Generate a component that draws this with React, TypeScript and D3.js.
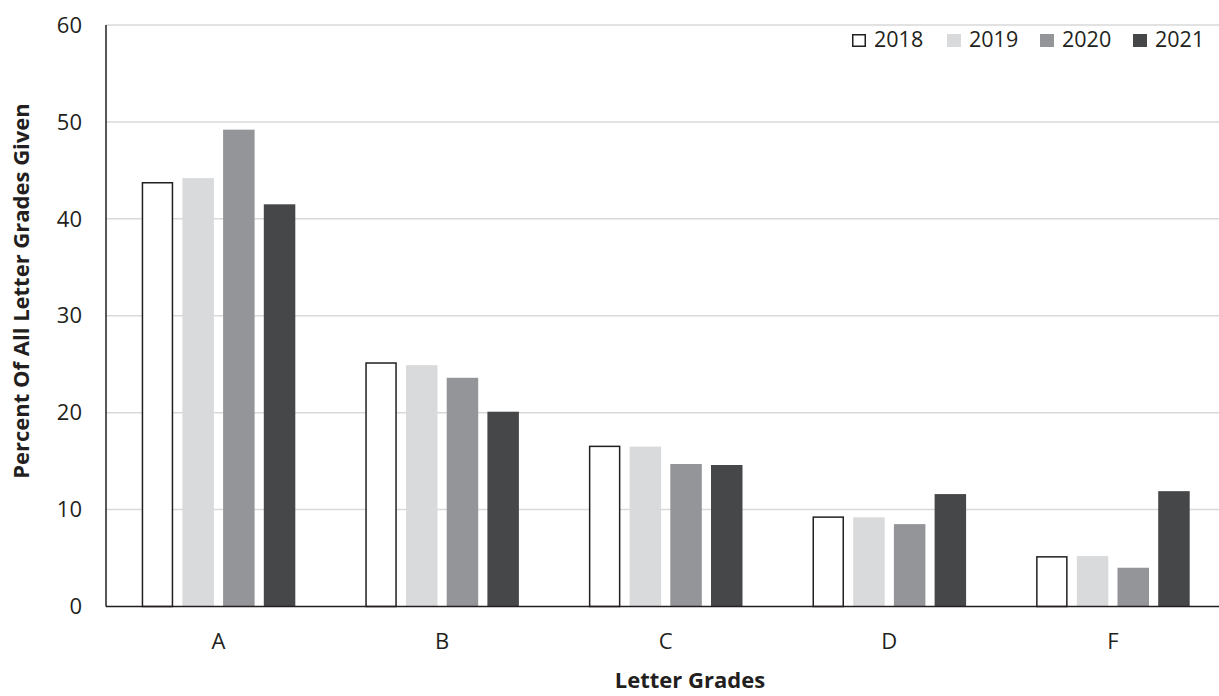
import React from "react";
import * as d3 from "d3";

const categories = ["A", "B", "C", "D", "F"];
const years = ["2018", "2019", "2020", "2021"];
const values2018 = [43.8, 25.2, 16.6, 9.3, 5.2];
const values2019 = [44.2, 24.9, 16.5, 9.2, 5.2];
const values2020 = [49.2, 23.6, 14.7, 8.5, 4.0];
const values2021 = [41.5, 20.1, 14.6, 11.6, 11.9];
const yTicks = [0, 10, 20, 30, 40, 50, 60];

const series = [values2018, values2019, values2020, values2021];
const fills = ["#ffffff", "#d9dadb", "#939598", "#464749"];
const strokes = ["#231f20", "none", "none", "none"];

export default function App() {
  const W = 1219, H = 696;
  const left = 106, right = 1224.7, top = 25, bottom = 606.5;
  const font = "'Open Sans', 'Noto Sans', sans-serif";
  const x = d3.scaleBand<string>().domain(categories).range([left + 0.7, right]).paddingInner(0).paddingOuter(0);
  const y = d3.scaleLinear().domain([0, 60]).range([bottom, top]);
  const barW = 31.5;
  const step = 40.7;
  const legendX = [852, 947, 1040, 1133];
  return (
    <svg width={W} height={H} style={{ position: "absolute", left: 0, top: 0, background: "#fff" }} fontFamily={font}>
      {yTicks.map((t) => (
        <g key={t}>
          {t > 0 && <line x1={left} x2={W} y1={y(t)} y2={y(t)} stroke="#d9d9d9" strokeWidth={1.5} />}
          <text x={82} y={y(t)} dy="0.35em" textAnchor="end" fontSize={22} fill="#231f20">{t}</text>
        </g>
      ))}
      {categories.map((c, i) => {
        const cx = x(c)! + x.bandwidth() / 2;
        return (
          <g key={c}>
            {series.map((s, j) => {
              const bx = cx + (j - 1.5) * step - barW / 2;
              const isOutline = j === 0;
              return (
                <rect
                  key={j}
                  x={bx + (isOutline ? 0.75 : 0)}
                  y={y(s[i]) + (isOutline ? 0.75 : 0)}
                  width={barW - (isOutline ? 1.5 : 0)}
                  height={bottom - y(s[i]) - (isOutline ? 0.75 : 0)}
                  fill={fills[j]}
                  stroke={strokes[j]}
                  strokeWidth={isOutline ? 1.5 : 0}
                />
              );
            })}
            <text x={cx} y={649} textAnchor="middle" fontSize={22} fill="#231f20">{c}</text>
          </g>
        );
      })}
      <line x1={left} x2={left} y1={top} y2={bottom} stroke="#231f20" strokeWidth={1.5} />
      <line x1={left} x2={W} y1={bottom} y2={bottom} stroke="#231f20" strokeWidth={1.5} />
      {years.map((yr, j) => (
        <g key={yr}>
          <rect
            x={legendX[j] + (j === 0 ? 0.75 : 0)}
            y={34 + (j === 0 ? 0.75 : 0)}
            width={14 - (j === 0 ? 1.5 : 0)}
            height={13 - (j === 0 ? 1.5 : 0)}
            fill={fills[j]}
            stroke={strokes[j]}
            strokeWidth={j === 0 ? 1.5 : 0}
          />
          <text x={legendX[j] + 22} y={46.5} fontSize={21.5} fill="#231f20">{yr}</text>
        </g>
      ))}
      <text x={690} y={688} textAnchor="middle" fontSize={22} fontWeight="bold" fill="#231f20">Letter Grades</text>
      <text transform={`translate(29, 291) rotate(-90)`} textAnchor="middle" fontSize={22} fontWeight="bold" fill="#231f20">Percent Of All Letter Grades Given</text>
    </svg>
  );
}
